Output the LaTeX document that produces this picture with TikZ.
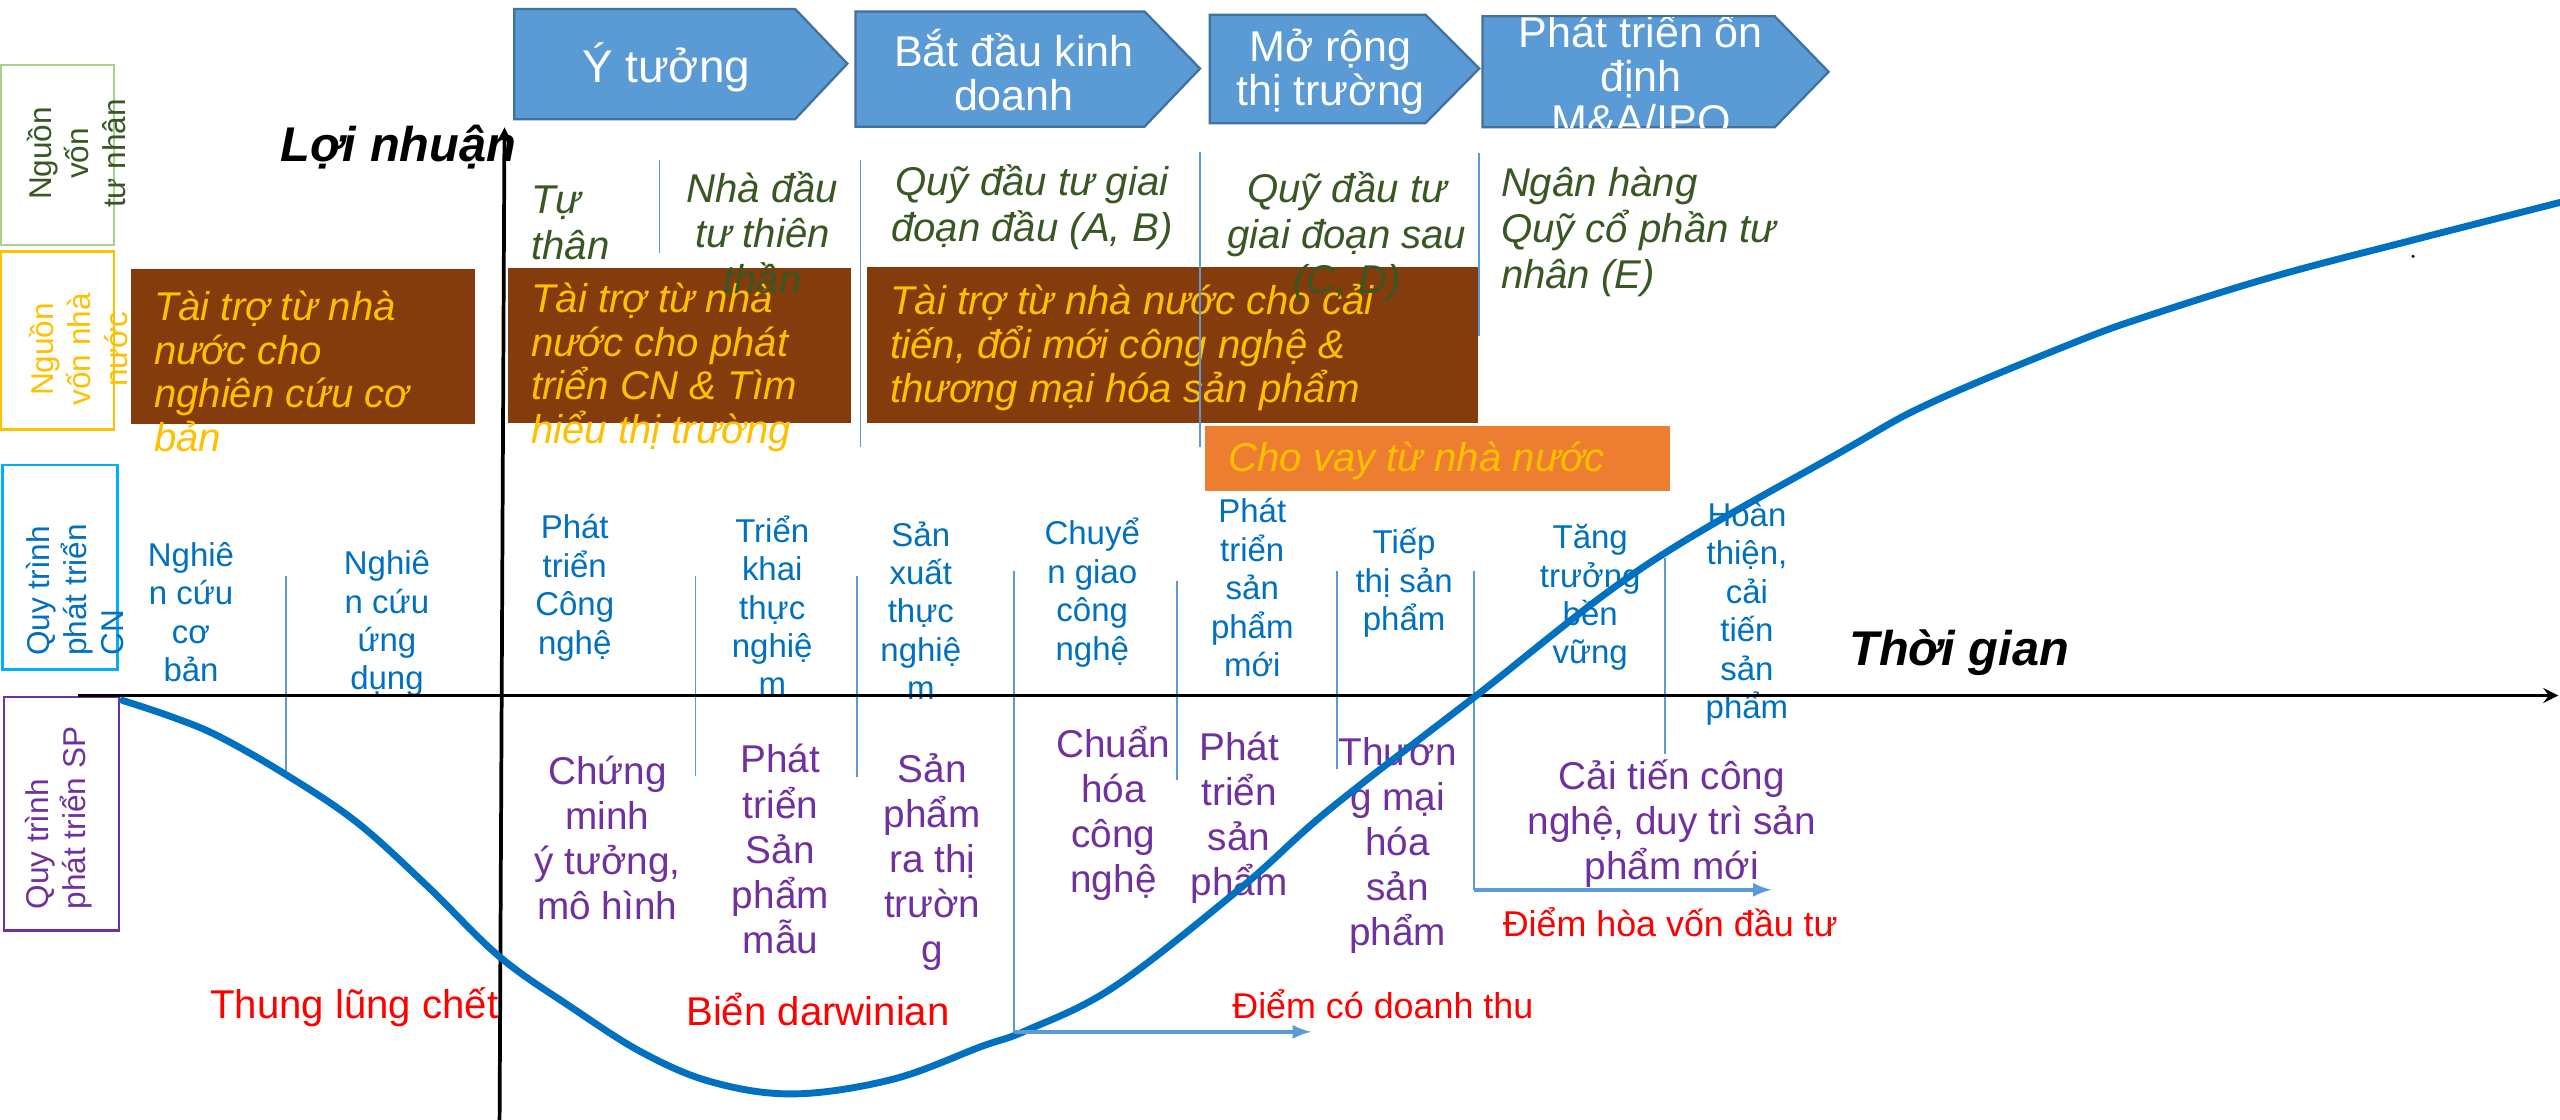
\documentclass[tikz,border=0pt]{standalone}
\usepackage{fontspec}
\setmainfont{Liberation Sans}
\usetikzlibrary{arrows,positioning,calc}
\definecolor{stagefill}{HTML}{5B9BD5}
\definecolor{stageline}{HTML}{41719C}
\definecolor{grantbrown}{HTML}{843C0C}
\definecolor{grantyellow}{HTML}{FFC000}
\definecolor{loanorange}{HTML}{ED7D31}
\definecolor{privgreen}{HTML}{385723}
\definecolor{pvframe}{HTML}{A9D18E}
\definecolor{techblue}{HTML}{0070C0}
\definecolor{techcyan}{HTML}{00B0F0}
\definecolor{prodpurple}{HTML}{7030A0}
\definecolor{divblue}{HTML}{5B9BD5}

\begin{document}
\begin{tikzpicture}[
		x=0.02cm,y=-0.02cm,
		>=stealth,
		stage/.style={
			fill=stagefill,
			draw=stageline,
			line width=0.8pt
		},
		stagetext/.style={
			text=white,
			align=center,
			inner sep=0pt,
			font=\fontsize{15}{15.3}\selectfont
		},
		sidebox/.style={
			line width=0.8pt
		},
		sidetext/.style={
			rotate=90,
			inner sep=0pt,
			font=\fontsize{11}{13}\selectfont
		},
		granttext/.style={
			anchor=west,
			align=left,
			inner sep=0pt,
			text=grantyellow,
			font=\fontsize{14}{15.3}\selectfont\itshape
		},
		private/.style={
			align=center,
			inner sep=0pt,
			text=privgreen,
			font=\fontsize{14}{15.9}\selectfont\itshape
		},
		techstep/.style={
			align=center,
			inner sep=0pt,
			text=techblue,
			font=\fontsize{11.5}{13.4}\selectfont
		},
		prodstep/.style={
			align=center,
			inner sep=0pt,
			text=prodpurple,
			font=\fontsize{13.5}{15.7}\selectfont
		},
		note/.style={
			inner sep=0pt,
			text=red,
			font=\fontsize{14}{15}\selectfont
		},
		divider/.style={
			draw=divblue,
			line width=0.6pt
		},
		milestone/.style={
			-latex,
			draw=divblue,
			line width=1.2pt
		},
		axis/.style={
			->,
			line width=1.3pt
		},
		axistitle/.style={
			inner sep=0pt,
			font=\fontsize{17}{19}\selectfont\bfseries\itshape
		},
		growth/.style={
			draw=techblue,
			line width=2.4pt,
			line cap=round
		}
		]
		\useasboundingbox (0,0) rectangle (1568,686);
		\fill[white] (0,0) rectangle (1568,686);
		% left legend
		\draw[sidebox,draw=pvframe] (0.5,40) rectangle (70,150);
		\draw[sidebox,draw=grantyellow] (0.5,154) rectangle (70,263);
		\draw[sidebox,draw=techcyan] (1.5,285) rectangle (72,410);
		\draw[sidebox,draw=prodpurple] (2.5,427) rectangle (73,570);
		\node[sidetext,align=center,text=privgreen] (pvlabel) at (47,94) {Nguồn\\vốn\\tư nhân};
		\node[sidetext,align=center,text=grantyellow] (statelabel) at (48,214) {Nguồn\\vốn nhà\\nước};
		\node[sidetext,align=left,anchor=west,text=techblue] (techlabel) at (46,402) {Quy trình\\phát triển\\CN};
		\node[sidetext,align=left,text=prodpurple] (prodlabel) at (36,501) {Quy trình\\phát triển SP};
		% stages
		\draw[stage] (315,5.5) -- (487,5.5) -- (519,39) -- (487,73) -- (315,73) -- cycle;
		\draw[stage] (524,7) -- (701,7) -- (735,42) -- (701,77.6) -- (524,77.6) -- cycle;
		\draw[stage] (741,9) -- (873,9) -- (906,42) -- (873,75.5) -- (741,75.5) -- cycle;
		\draw[stage] (908,10) -- (1087,10) -- (1120,44) -- (1087,78) -- (908,78) -- cycle;
		\node[stagetext,font=\fontsize{16}{16}\selectfont] (idea) at (408,41) {Ý tưởng};
		\node[stagetext] (startup) at (621,43) {Bắt đầu kinh\\doanh};
		\node[stagetext] (expand) at (815,44) {Mở rộng\\thị trường};
		\begin{scope}
			\clip (908,10) -- (1087,10) -- (1120,44) -- (1087,78) -- (908,78) -- cycle;
			\node[stagetext] (stable) at (1005,45.5) {Phát triển ổn\\định\\M\&A/IPO};
		\end{scope}
		% state funding
		\fill[grantbrown] (80,165) rectangle (291,260);
		\fill[grantbrown] (311,164) rectangle (521,259);
		\fill[grantbrown] (531,163.5) rectangle (905,259);
		\fill[loanorange] (738,261) rectangle (1023,300.7);
		\node[granttext] (grant1) at (94,227.5) {Tài trợ từ nhà\\nước cho\\nghiên cứu cơ\\bản};
		\node[granttext] (grant2) at (325,225) {Tài trợ từ nhà\\nước cho phát\\triển CN \& Tìm\\hiểu thị trường};
		\node[granttext] (grant3) at (545,213) {Tài trợ từ nhà nước cho cải\\tiến, đổi mới công nghệ \&\\thương mại hóa sản phẩm};
		\node[granttext] (loan) at (752,282) {Cho vay từ nhà nước};
		% dividers
		\draw[divider] (404,98) -- (404,155);
		\draw[divider] (527,98) -- (527,274);
		\draw[divider] (735,93) -- (735,274);
		\draw[divider] (906,94) -- (906,206);
		\coordinate (revenue) at (621,632);
		\coordinate (breakeven) at (903,545);
		\draw[divider] (175,353) -- (175,474);
		\draw[divider] (426,353) -- (426,475);
		\draw[divider] (525,353) -- (525,476);
		\draw[divider] (621,350) -- (revenue);
		\draw[divider] (721,356) -- (721,478);
		\draw[divider] (819,350) -- (819,471);
		\draw[divider] (903,350) -- (breakeven);
		\draw[divider] (1020,342) -- (1020,462);
		% private funding
		\node[private,align=left,anchor=west] (self) at (325,136.5) {Tự\\thân};
		\node[private] (angel) at (467,142.5) {Nhà đầu\\tư thiên\\thần};
		\node[private] (early) at (632,127) {Quỹ đầu tư giai\\đoạn đầu (A, B)};
		\node[private] (late) at (825,145) {Quỹ đầu tư\\giai đoạn sau\\(C, D)};
		\node[private,align=left,anchor=west] (bank) at (919,142) {Ngân hàng\\Quỹ cổ phần tư\\nhân (E)};
		% technology steps
		\node[techstep] (basic) at (117,375) {Nghiê\\n cứu\\cơ\\bản};
		\node[techstep] (applied) at (237,382) {Nghiê\\n cứu\\ứng\\dụng};
		\node[techstep] (techdev) at (352,360) {Phát\\triển\\Công\\nghệ};
		\node[techstep] (pilot) at (473,371) {Triển\\khai\\thực\\nghiệ\\m};
		\node[techstep] (trial) at (564,374) {Sản\\xuất\\thực\\nghiệ\\m};
		\node[techstep] (transfer) at (669,363) {Chuyể\\n giao\\công\\nghệ};
		\node[techstep] (newprod) at (767,360) {Phát\\triển\\sản\\phẩm\\mới};
		\node[techstep] (marketing) at (860,357) {Tiếp\\thị sản\\phẩm};
		\node[techstep] (growthtxt) at (974,366) {Tăng\\trưởng\\bền\\vững};
		\node[techstep] (refine) at (1070,376) {Hoàn\\thiện,\\cải\\tiến\\sản\\phẩm};
		% product steps
		\node[prodstep] (proof) at (372,513) {Chứng\\minh\\ý tưởng,\\mô hình};
		\node[prodstep] (sample) at (478,520) {Phát\\triển\\Sản\\phẩm\\mẫu};
		\node[prodstep] (launch) at (571,528) {Sản\\phẩm\\ra thị\\trườn\\g};
		\node[prodstep] (standard) at (682,498) {Chuẩn\\hóa\\công\\nghệ};
		\node[prodstep] (proddev) at (759,501) {Phát\\triển\\sản\\phẩm};
		\node[prodstep] (commerce) at (856,518) {Thươn\\g mại\\hóa\\sản\\phẩm};
		\node[prodstep] (improve) at (1024,504.6) {Cải tiến công\\nghệ, duy trì sản\\phẩm mới};
		% axes
		\draw[axis] (306,686) -- (309,78);
		\draw[axis] (48,426) -- (1567,426);
		\node[axistitle] (profit) at (244,90) {Lợi nhuận};
		\node[axistitle] (time) at (1200,400) {Thời gian};
		% curve
		\draw[growth] plot[smooth,tension=0.6] coordinates {(75,429) (105,439) (134,451) (176,475) (219,504) (262,543) (306,586) (350,617) (394,645) (437,663) (487,670) (547,661) (601,641) (629,631) (683,604) (761,543) (814,496) (903,427) (1007,347) (1129,276) (1182,247) (1270,210) (1317,193) (1394,169) (1478,147) (1568,124)};
		\fill (1478,157) circle (0.6pt);
		% milestones
		\draw[milestone] (revenue) -- ++(182,0);
		\draw[milestone] (breakeven) -- ++(182,0);
		\node[note] (valley) at (217,617) {Thung lũng chết};
		\node[note] (sea) at (501,618.5) {Biển darwinian};
		\node[note,font=\fontsize{12.5}{14}\selectfont] (revtext) at (847,615) {Điểm có doanh thu};
		\node[note,font=\fontsize{12.5}{14}\selectfont] (betext) at (1023,564.6) {Điểm hòa vốn đầu tư};
		\end{tikzpicture}
\end{document}
